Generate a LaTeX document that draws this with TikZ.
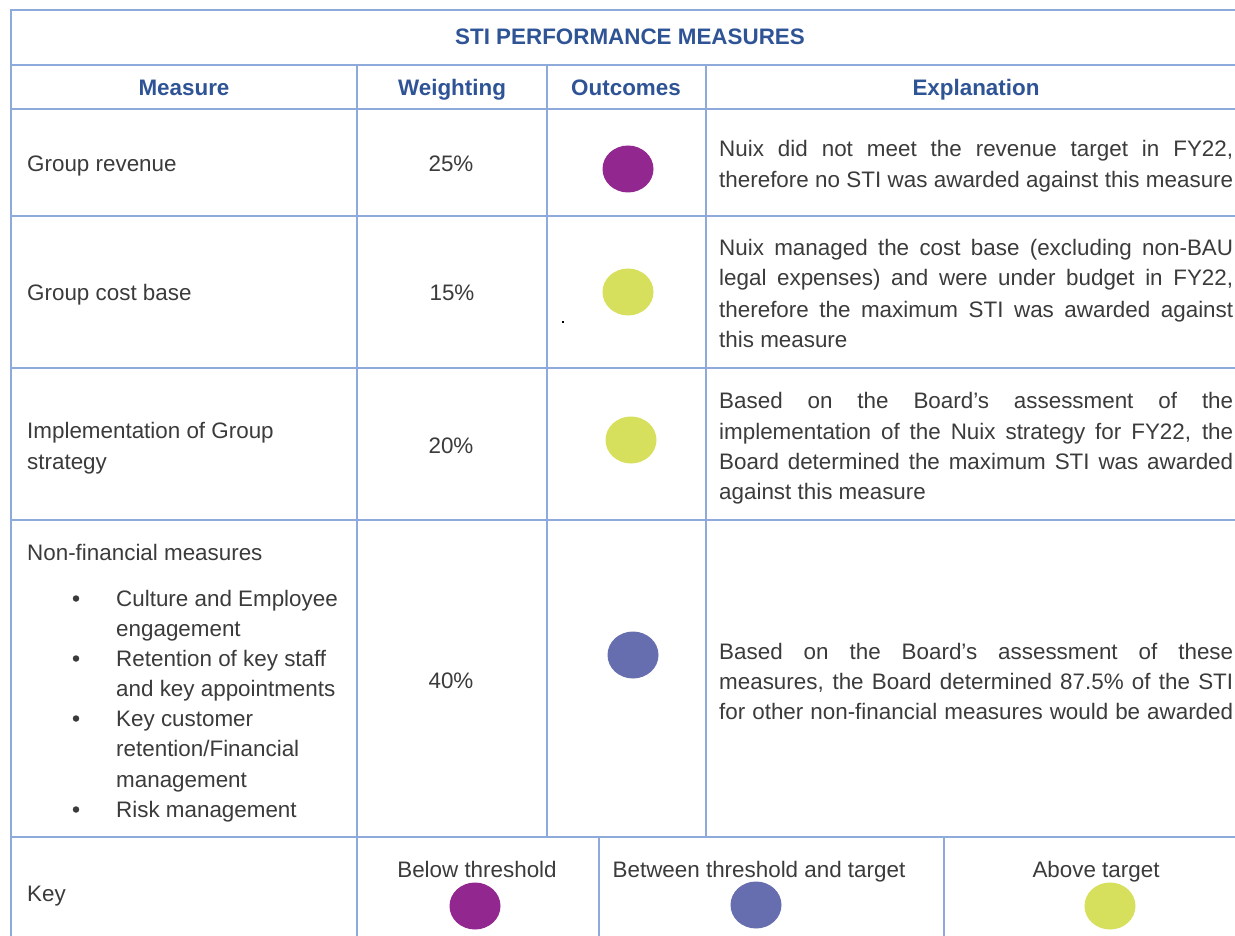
\documentclass[tikz,border=0pt]{standalone}
\usepackage{fontspec}
\setmainfont{Liberation Sans}
\usetikzlibrary{shapes.geometric}
\definecolor{grid}{HTML}{8EAADB}
\definecolor{hdr}{HTML}{2F5496}
\definecolor{txt}{HTML}{3B3B3B}
\definecolor{pur}{HTML}{92278F}
\definecolor{yel}{HTML}{D7E05C}
\definecolor{blu}{HTML}{666EAF}
\newcommand\jline[1]{\makebox[514pt][s]{#1}}
\begin{document}
\begin{tikzpicture}[x=1pt,y=-1pt,
  rule/.style={draw=grid,line width=1.6pt},
  hd/.style={font=\fontsize{22.4}{26}\selectfont\bfseries, text=hdr, anchor=base, inner sep=0pt},
  tx/.style={font=\fontsize{22.4}{30}\selectfont, text=txt, anchor=base west, inner sep=0pt},
  tc/.style={tx, anchor=base},
  bul/.style={circle, fill=txt, draw=none, inner sep=0pt, minimum size=6.5pt},
  blob/.style={ellipse, fill=#1, draw=none, inner sep=0pt, minimum width=51pt, minimum height=47pt}]
\useasboundingbox (0,0) rectangle (1235,936);
\clip (0,0) rectangle (1235,936);
\fill[white] (0,0) rectangle (1235,936);
% grid
\draw[rule] (1240,10) -- (11,10) -- (11,940);
\foreach \y in {65,109,216,368,520,837} \draw[rule] (11,\y) -- (1240,\y);
\draw[rule] (357,65) -- (357,940);
\draw[rule] (547,65) -- (547,837);
\draw[rule] (706,65) -- (706,837);
\draw[rule] (599,837) -- (599,940);
\draw[rule] (944,837) -- (944,940);
% headers
\node[hd] (title) at (630,45) {STI PERFORMANCE MEASURES};
\node[hd] (hmeas) at (184,96) {Measure};
\node[hd] (hweig) at (452,96) {Weighting};
\node[hd] (hout) at (626,96) {Outcomes};
\node[hd] (hexp) at (976,96) {Explanation};
% row 1
\node[tx] (m1) at (27,172) {Group revenue};
\node[tc] (w1) at (451,172) {25\%};
\node[blob=pur] (o1) at (628,169) {};
\node[tx] (e1a) at (719,157) {\jline{Nuix did not meet the revenue target in FY22,}};
\node[tx] (e1b) at (719,188) {\jline{therefore no STI was awarded against this measure}};
% row 2
\node[tx] (m2) at (27,301) {Group cost base};
\node[tc] (w2) at (452,301) {15\%};
\node[blob=yel] (o2) at (628,292) {};
\fill[black] (562,321) rectangle (564,323);
\node[tx] (e2a) at (719,256) {\jline{Nuix managed the cost base (excluding non-BAU}};
\node[tx] (e2b) at (719,286) {\jline{legal expenses) and were under budget in FY22,}};
\node[tx] (e2c) at (719,317) {\jline{therefore the maximum STI was awarded against}};
\node[tx] (e2d) at (719,347) {this measure};
% row 3
\node[tx] (m3a) at (27,438) {Implementation of Group};
\node[tx] (m3b) at (27,469) {strategy};
\node[tc] (w3) at (451,453) {20\%};
\node[blob=yel] (o3) at (631,440) {};
\node[tx] (e3a) at (719,408) {\jline{Based on the Board’s assessment of the}};
\node[tx] (e3b) at (719,439) {\jline{implementation of the Nuix strategy for FY22, the}};
\node[tx] (e3c) at (719,469) {\jline{Board determined the maximum STI was awarded}};
\node[tx] (e3d) at (719,499) {against this measure};
% row 4
\node[tx] (m4) at (27,560) {Non-financial measures};
\foreach \yy/\t/\b [count=\i] in {606/Culture and Employee/1, 636/engagement/0, 666/Retention of key staff/1, 696/and key appointments/0, 726/Key customer/1, 756/retention\slash Financial/0, 787/management/0, 817/Risk management/1}{
  \node[tx] (m4l\i) at (116,\yy) {\t};
  \ifnum\b=1 \node[bul] (m4b\i) at (76,\yy-7.5) {};\fi
}
\node[tc] (w4) at (451,688) {40\%};
\node[blob=blu] (o4) at (633,655) {};
\node[tx] (e4a) at (719,659) {\jline{Based on the Board’s assessment of these}};
\node[tx] (e4b) at (719,689) {\jline{measures, the Board determined 87.5\% of the STI}};
\node[tx] (e4c) at (719,719) {\jline{for other non-financial measures would be awarded}};
% key row
\node[tx] (key) at (27,901) {Key};
\node[tc] (k1t) at (477,877) {Below threshold};
\node[blob=pur] (k1) at (475,906) {};
\node[tc] (k2t) at (759,877) {Between threshold and target};
\node[blob=blu] (k2) at (756,905) {};
\node[tc] (k3t) at (1096,877) {Above target};
\node[blob=yel] (k3) at (1110,906) {};
\end{tikzpicture}
\end{document}
